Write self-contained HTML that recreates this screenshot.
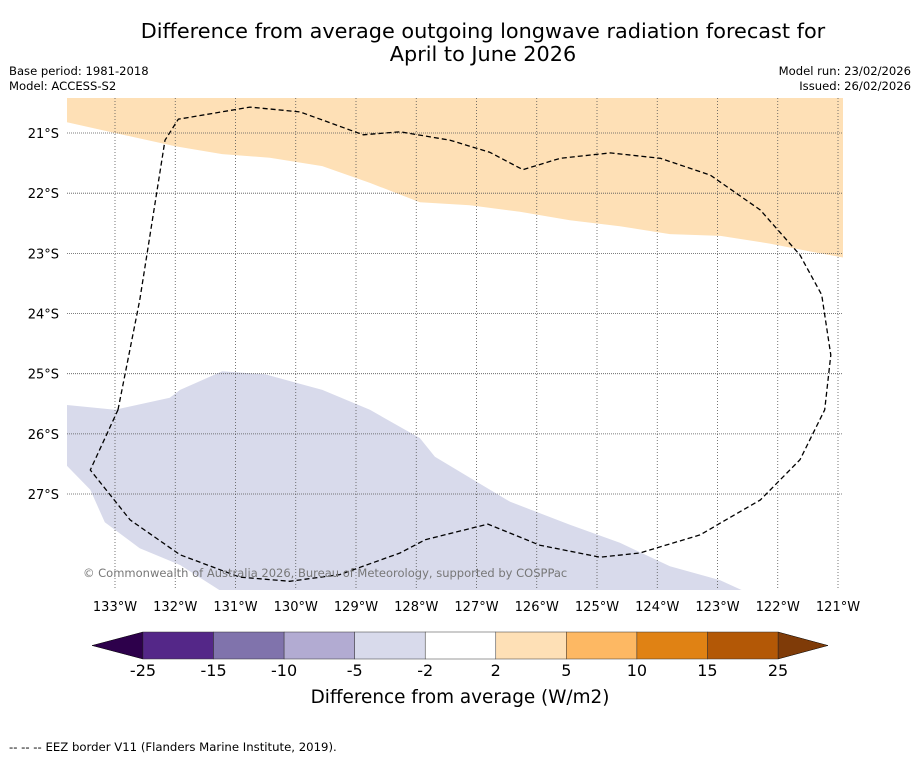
<!DOCTYPE html>
<html><head><meta charset="utf-8"><style>
body{margin:0;background:#fff;font-family:"Liberation Sans","DejaVu Sans",sans-serif}
svg text{font-family:"DejaVu Sans","Liberation Sans",sans-serif}
</style></head><body>
<svg id="c" width="919" height="758" viewBox="0 0 919 758" xmlns="http://www.w3.org/2000/svg">
<text x="483" y="38" font-size="20.8" text-anchor="middle">Difference from average outgoing longwave radiation forecast for</text>
<text x="483" y="61" font-size="20.8" text-anchor="middle">April to June 2026</text>
<text x="9" y="75" font-size="11.6">Base period: 1981-2018</text>
<text x="9" y="90" font-size="11.6">Model: ACCESS-S2</text>
<text x="911" y="75" font-size="11.6" text-anchor="end">Model run: 23/02/2026</text>
<text x="911" y="90" font-size="11.6" text-anchor="end">Issued: 26/02/2026</text>
<defs><clipPath id="mc"><rect x="67" y="98" width="776" height="492"/></clipPath></defs>
<g id="map" clip-path="url(#mc)"></g>
<g id="axes"></g>
<g id="cbar"></g>
<text x="460" y="703" font-size="18.4" text-anchor="middle">Difference from average (W/m2)</text>
<text x="9" y="751" font-size="11.7">--  --  -- EEZ border V11 (Flanders Marine Institute, 2019).</text>
</svg>
<script>
const lonTicks=[133,132,131,130,129,128,127,126,125,124,123,122,121];
const latTicks=[21,22,23,24,25,26,27];
const orangeLon=[133.8,133.0,132.0,131.22,130.43,129.56,128.77,127.94,127.11,126.28,125.45,124.62,123.79,122.95,122.12,121.46,120.91];
const orangeLat=[20.82,21.0,21.22,21.35,21.41,21.55,21.83,22.15,22.2,22.31,22.45,22.55,22.68,22.71,22.84,22.97,23.07];
const lavLon=[133.8,133.0,132.09,131.92,131.22,130.51,129.56,128.77,127.94,127.69,127.11,126.44,125.45,124.62,123.79,122.96,122.59,131.26,131.92,132.59,133.17,133.41,133.8];
const lavLat=[25.52,25.6,25.4,25.27,24.96,25.01,25.27,25.6,26.07,26.38,26.73,27.13,27.51,27.81,28.2,28.43,28.6,28.6,28.18,27.9,27.47,26.93,26.53];
const eezLon=[132.95,132.59,132.17,131.95,130.76,129.93,128.88,128.27,127.44,126.78,126.23,125.61,124.78,123.95,123.12,122.29,121.63,121.27,121.12,121.22,121.63,122.29,123.29,124.29,124.95,125.95,126.81,127.85,128.27,129.27,130.10,130.93,131.92,132.75,133.41,132.95];
const eezLat=[25.6,23.78,21.12,20.77,20.57,20.65,21.03,20.98,21.12,21.32,21.61,21.42,21.33,21.42,21.7,22.28,23.03,23.69,24.69,25.6,26.43,27.1,27.68,27.98,28.05,27.85,27.5,27.76,27.98,28.34,28.45,28.38,28.01,27.43,26.6,25.6];
const cbLevels=["-25","-15","-10","-5","-2","2","5","10","15","25"];
const cbColors=["#542788","#8073ac","#b2abd2","#d8daeb","#ffffff","#fee0b6","#fdb863","#e08214","#b35806"];
const NS="http://www.w3.org/2000/svg";
const X=lon=>115+(133-lon)*60.25, Y=lat=>133+(lat-21)*60.17;
function mk(t,a,p){const e=document.createElementNS(NS,t);for(const k in a)e.setAttribute(k,a[k]);p.appendChild(e);return e;}
const map=document.getElementById('map'),axes=document.getElementById('axes'),cb=document.getElementById('cbar');
const pts=(lo,la)=>lo.map((v,i)=>X(v).toFixed(1)+','+Y(la[i]).toFixed(1)).join(' ');
const op=pts(orangeLon,orangeLat)+' 843,98 67,98';
let e=mk('polygon',{points:op,fill:'#fee0b6'},map);


e=mk('polygon',{points:pts(lavLon,lavLat)+' 67,600',fill:'#d8daeb'},map);


lonTicks.forEach(l=>{const x=X(l);
 e=mk('line',{x1:x,y1:98,x2:x,y2:590,stroke:'#555','stroke-width':0.8,'stroke-dasharray':'1,2'},map);
 
 
 e=mk('text',{x:x,y:611,'font-size':13,'text-anchor':'middle'},axes);e.textContent=l+'°W';
 
 });
latTicks.forEach(l=>{const y=Y(l);
 e=mk('line',{x1:67,y1:y,x2:843,y2:y,stroke:'#555','stroke-width':0.8,'stroke-dasharray':'1,1'},map);
 
 
 e=mk('text',{x:59,y:y+5,'font-size':13,'text-anchor':'end'},axes);e.textContent=l+'°S';
 
 });
e=mk('polyline',{points:pts(eezLon,eezLat),fill:'none',stroke:'#000','stroke-width':1.3,'stroke-dasharray':'5,3','stroke-linejoin':'round'},map);


e=mk('text',{x:83,y:577,'font-size':11.5,fill:'#777'},map);e.textContent='© Commonwealth of Australia 2026, Bureau of Meteorology, supported by COSPPac';


const cx0=143,cx1=778,cy=632,ch=27,w=(cx1-cx0)/cbColors.length;
e=mk('polygon',{points:`${cx0},${cy} ${cx0},${cy+ch} 92,${cy+ch/2}`,fill:'#2d004b',stroke:'#000','stroke-width':0.5},cb);


e=mk('polygon',{points:`${cx1},${cy} ${cx1},${cy+ch} 828,${cy+ch/2}`,fill:'#7f3b08',stroke:'#000','stroke-width':0.5},cb);


cbColors.forEach((c,i)=>{e=mk('rect',{x:cx0+i*w,y:cy,width:w,height:ch,fill:c,stroke:'#333','stroke-width':0.5},cb);
 
 });
cbLevels.forEach((l,i)=>{e=mk('text',{x:cx0+i*w,y:676,'font-size':16,'text-anchor':'middle'},cb);e.textContent=l;
 
 });
</script>
</body></html>
